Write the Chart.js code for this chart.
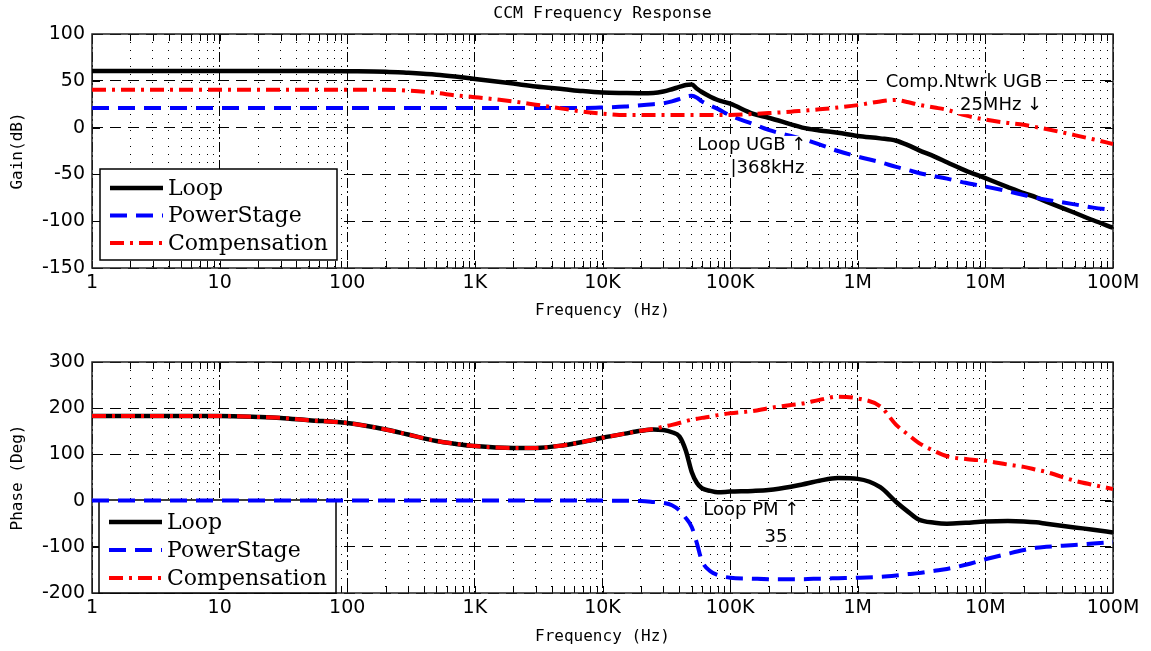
<!DOCTYPE html>
<html>
<head>
<meta charset="utf-8">
<title>CCM Frequency Response</title>
<script src="https://cdn.jsdelivr.net/npm/chart.js@4.4.1/dist/chart.umd.min.js"></script>
<style>
  html, body { margin: 0; padding: 0; background: #fff; }
  canvas { display: block; }
</style>
</head>
<body>
<canvas id="gainChart" width="1151" height="325"></canvas>
<canvas id="phaseChart" width="1151" height="326"></canvas>
<script>
// frequencies (Hz) the curves were read at
const freqHz = [1, 10, 20, 30, 50, 100, 200, 300, 500, 700,
  1e3, 2e3, 3e3, 5e3, 7e3, 1e4, 1.5e4, 2e4, 2.5e4, 3e4,
  3.5e4, 4e4, 4.5e4, 5e4, 5.5e4, 6e4, 7e4, 8e4, 1e5, 1.5e5,
  2e5, 3e5, 3.68e5, 5e5, 7e5, 1e6, 1.5e6, 2e6, 2.5e6, 3e6,
  4e6, 5e6, 7e6, 1e7, 1.5e7, 2e7, 2.5e7, 3e7, 5e7, 7e7, 1e8];

const seriesNames = ['Loop', 'PowerStage', 'Compensation'];

// gain (dB)
const gainLoop = [60.5, 60.5, 60.5, 60.5, 60.5, 60.3, 59.8, 58.5, 56.5, 54.5,
  52, 47, 44, 41, 39, 37.5, 37, 36.8, 37, 38.5,
  41, 43.5, 45.5, 46, 41.5, 38, 33, 29.5, 25.5, 15,
  10.5, 3.5, 0, -3, -5.5, -9, -11.5, -14, -19, -24,
  -31, -37, -46, -54, -63.5, -70, -74.5, -79, -91, -99, -107];
const gainPower = [21, 21, 21, 21, 21, 21, 21, 21, 21, 21,
  21, 21, 21, 21, 21, 21.5, 22.5, 24, 25, 26,
  28, 30.5, 33, 34, 32, 28, 23.5, 20, 13, 4,
  -2.5, -9, -12, -18, -25, -31, -37, -42, -45.5, -48.5,
  -52, -54.5, -59, -63, -68, -72, -75, -77, -82, -85.5, -88];
const gainComp = [40.5, 40.5, 40.5, 40.5, 40.5, 40.5, 40.5, 39.5, 37, 34.5,
  32.5, 28, 24.5, 20, 17, 15, 13.5, 13.5, 13.5, 13.5,
  13.5, 13.5, 13.5, 13.5, 13.5, 13.5, 13.5, 13.5, 13.5, 14.5,
  15.5, 17, 18, 19.5, 21.5, 24, 28, 29.5, 27, 24.5,
  21.5, 19, 13, 8.5, 5, 3, 0.5, -1.5, -8, -12.5, -17.5];

// phase (deg)
const phaseLoop = [183, 183, 181, 179, 174, 168, 154, 143, 129, 123,
  118, 114, 114, 120, 127, 136, 145, 151, 154, 153,
  148, 139, 108, 62, 38, 27, 21, 18, 19.5, 21,
  23, 30, 35, 43, 49, 47, 29, -3, -25, -41,
  -48, -50, -48, -45, -44, -45, -47, -50, -58, -63, -69];
const phasePower = [0, 0, 0, 0, 0, 0, 0, 0, 0, 0,
  0, 0, 0, 0, 0, 0, -0.5, -1, -3, -5,
  -10, -21, -38, -57, -93, -130, -153, -161, -167, -169,
  -170, -170, -170, -169, -168, -167, -165, -162, -159, -157,
  -152, -148, -139, -127, -115, -107, -102, -100, -96, -93, -90];
const phaseComp = [183, 183, 181, 179, 174, 168, 154, 143, 129, 123,
  118, 114, 114, 120, 127, 136, 145, 151, 155, 160,
  164, 168, 172, 175, 177, 179, 182, 185, 189, 194,
  200, 207, 210, 218, 225, 221, 204, 164, 142, 125,
  107, 96, 90, 86, 78, 73, 67, 62, 43, 34, 25];

const freqTickLabels = ['1', '10', '100', '1K', '10K', '100K', '1M', '10M', '100M'];
const gainRange = [-150, 100];
const phaseRange = [-200, 300];

const gainNotes = [
  { text: 'Comp.Ntwrk UGB', f: 25e6, v: 48.5, dx: 6 },
  { text: '25MHz \u2193', f: 25e6, v: 24, dx: 6 },
  { text: 'Loop UGB \u2191', f: 368e3, v: -18.5, dx: 4 },
  { text: '|368kHz', f: 368e3, v: -43, dx: 2 }
];
const phaseNotes = [
  { text: 'Loop PM \u2191', f: 368e3, v: -21, dx: -3 },
  { text: '35', f: 368e3, v: -79, dx: -15 }
];

const lineStyles = [
  { borderColor: '#000000', borderWidth: 4.5, borderDash: [], order: 3 },
  { borderColor: '#0000ff', borderWidth: 4, borderDash: [17, 9], order: 2 },
  { borderColor: '#ff0000', borderWidth: 4, borderDash: [14, 6, 3, 6], order: 1 }
];

const isDecade = v => Math.abs(Math.log10(v) - Math.round(Math.log10(v))) < 1e-6;

function freqTicks() {
  const out = [];
  for (let e = 0; e < 8; e++) {
    for (let m = 1; m < 10; m++) out.push({ value: m * Math.pow(10, e) });
  }
  out.push({ value: 1e8 });
  return out;
}

function buildDatasets(cols) {
  return cols.map((ys, i) => Object.assign({
    label: seriesNames[i],
    data: freqHz.map((f, j) => ({ x: f, y: ys[j] })),
    pointRadius: 0,
    fill: false,
    cubicInterpolationMode: 'monotone'
  }, lineStyles[i]));
}

// box around the plot plus small inward ticks
const framePlugin = {
  id: 'frame',
  beforeDatasetsDraw(chart) {
    const { ctx, chartArea: a, scales } = chart;
    ctx.save();
    ctx.strokeStyle = '#000';
    ctx.lineWidth = 1;
    ctx.beginPath();
    scales.x.ticks.forEach(t => {
      const px = Math.round(scales.x.getPixelForValue(t.value)) + 0.5;
      ctx.moveTo(px, a.bottom); ctx.lineTo(px, a.bottom - 7);
      ctx.moveTo(px, a.top); ctx.lineTo(px, a.top + 7);
    });
    scales.y.ticks.forEach(t => {
      const py = Math.round(scales.y.getPixelForValue(t.value)) + 0.5;
      ctx.moveTo(a.left, py); ctx.lineTo(a.left + 8, py);
      ctx.moveTo(a.right, py); ctx.lineTo(a.right - 8, py);
    });
    ctx.stroke();
    ctx.lineWidth = 1.5;
    ctx.strokeStyle = '#222';
    ctx.strokeRect(a.left, a.top, a.right - a.left, a.bottom - a.top);
    ctx.restore();
  }
};

// legend in a white box inside the plot
const boxLegend = {
  id: 'boxLegend',
  beforeDatasetsDraw(chart, args, opts) {
    const ctx = chart.ctx;
    ctx.save();
    ctx.fillStyle = '#fff';
    ctx.fillRect(opts.x, opts.y, opts.w, opts.h);
    ctx.strokeStyle = '#000';
    ctx.lineWidth = 1.5;
    ctx.strokeRect(opts.x, opts.y, opts.w, opts.h);
    ctx.font = '22px "DejaVu Serif"';
    ctx.textBaseline = 'middle';
    chart.data.datasets.forEach((ds, i) => {
      const y = opts.y + opts.rowTop + i * opts.rowGap;
      ctx.setLineDash(ds.borderDash || []);
      ctx.strokeStyle = ds.borderColor;
      ctx.lineWidth = ds.borderWidth;
      ctx.beginPath();
      ctx.moveTo(opts.x + 10, y);
      ctx.lineTo(opts.x + 63, y);
      ctx.stroke();
      ctx.setLineDash([]);
      ctx.fillStyle = '#000';
      ctx.fillText(ds.label, opts.x + 68, y + 1);
    });
    ctx.restore();
  }
};

// text notes with white backing
const notesPlugin = {
  id: 'notes',
  afterDatasetsDraw(chart, args, opts) {
    const { ctx, scales } = chart;
    ctx.save();
    ctx.font = '18px "DejaVu Sans"';
    ctx.textAlign = 'right';
    ctx.textBaseline = 'middle';
    (opts.items || []).forEach(n => {
      const px = scales.x.getPixelForValue(n.f) + n.dx;
      const py = scales.y.getPixelForValue(n.v);
      const w = ctx.measureText(n.text).width;
      ctx.fillStyle = '#fff';
      ctx.fillRect(px - w - 2, py - 9, w + 4, 18);
      ctx.fillStyle = '#000';
      ctx.fillText(n.text, px, py);
    });
    ctx.restore();
  }
};

const smallFont = { family: 'DejaVu Sans Mono', size: 16, weight: 'normal' };
const tickFont = { family: 'DejaVu Sans', size: 19 };

function makeOptions(range, step, yTitle, withTitle, axisHeight, legendBox, notes) {
  return {
    responsive: false,
    animation: false,
    events: [],
    layout: { padding: { left: 0, right: 38, top: withTitle ? 0 : 37, bottom: 0 } },
    plugins: {
      legend: { display: false },
      tooltip: { enabled: false },
      title: {
        display: withTitle,
        fullSize: false,
        text: 'CCM Frequency Response',
        color: '#000',
        font: { family: 'DejaVu Sans Mono', size: 16.5, weight: 'normal', lineHeight: 1.2 },
        padding: { top: 4, bottom: 10.2 }
      },
      boxLegend: legendBox,
      notes: { items: notes }
    },
    scales: {
      x: {
        type: 'logarithmic',
        min: 1,
        max: 1e8,
        afterBuildTicks: s => { s.ticks = freqTicks(); },
        afterFit: s => { s.height = axisHeight; },
        ticks: {
          autoSkip: false,
          maxRotation: 0,
          padding: 4,
          color: '#000',
          font: tickFont,
          callback: v => isDecade(v) ? freqTickLabels[Math.round(Math.log10(v))] : ''
        },
        grid: { color: '#000', lineWidth: 1, drawTicks: false },
        border: {
          display: false,
          dash: c => (c.tick && isDecade(c.tick.value)) ? [10, 3, 2, 3] : [1, 7]
        },
        title: { display: true, text: 'Frequency (Hz)', color: '#000', font: smallFont, padding: { top: 0, bottom: 5 } }
      },
      y: {
        min: range[0],
        max: range[1],
        afterFit: s => { s.width = 92; },
        ticks: { stepSize: step, padding: 7, color: '#000', font: tickFont },
        grid: { color: '#000', lineWidth: 1, drawTicks: false },
        border: { display: false, dash: [11, 7] },
        title: { display: true, text: yTitle, color: '#000', font: smallFont, padding: { top: 8, bottom: 0 } }
      }
    }
  };
}

new Chart(document.getElementById('gainChart'), {
  type: 'line',
  data: { datasets: buildDatasets([gainLoop, gainPower, gainComp]) },
  options: makeOptions(gainRange, 50, 'Gain(dB)', true, 57,
    { x: 100, y: 169, w: 237, h: 91, rowTop: 19, rowGap: 27.5 }, gainNotes),
  plugins: [framePlugin, boxLegend, notesPlugin]
});

new Chart(document.getElementById('phaseChart'), {
  type: 'line',
  data: { datasets: buildDatasets([phaseLoop, phasePower, phaseComp]) },
  options: makeOptions(phaseRange, 100, 'Phase (Deg)', false, 58,
    { x: 99, y: 175, w: 237, h: 93, rowTop: 22, rowGap: 28 }, phaseNotes),
  plugins: [framePlugin, boxLegend, notesPlugin]
});
</script>
</body>
</html>
